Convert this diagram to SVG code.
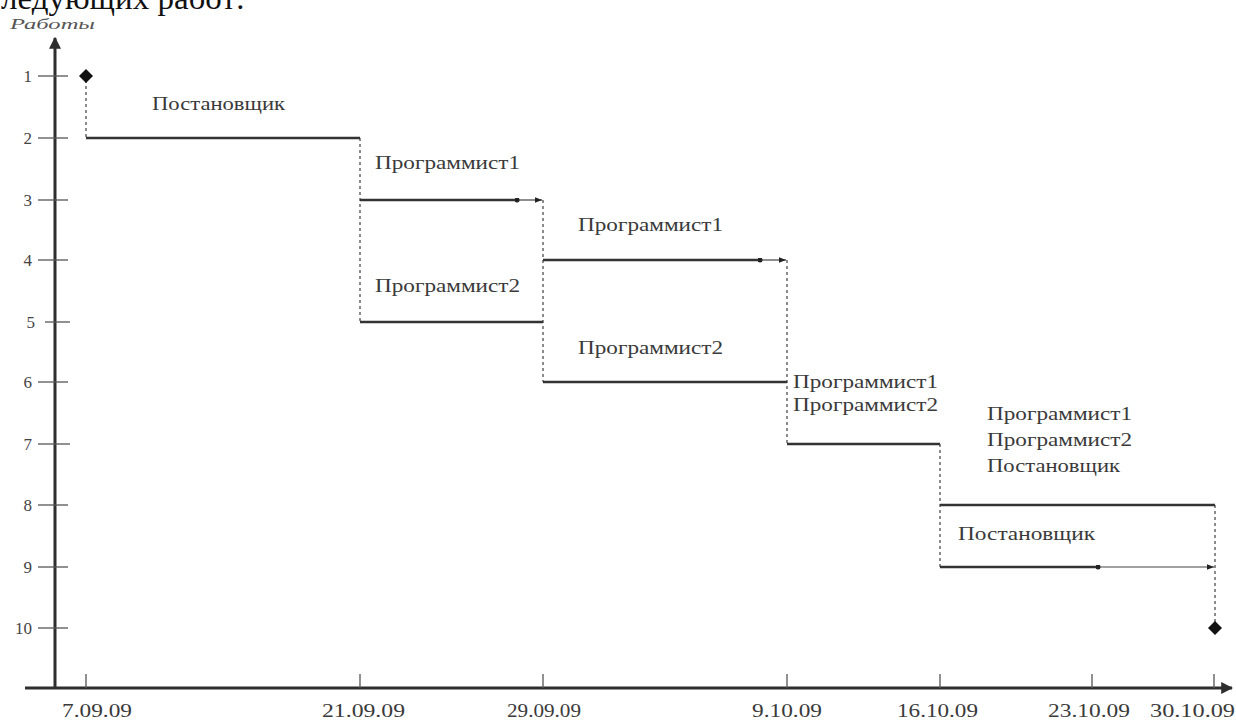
<svg xmlns="http://www.w3.org/2000/svg" width="1236" height="722" viewBox="0 0 1236 722">
  <defs>
    <style>
      .axis { stroke: #2e2e2e; stroke-width: 3; fill: none; }
      .tick { stroke: #555; stroke-width: 1.3; fill: none; }
      .work { stroke: #333; stroke-width: 2.6; fill: none; }
      .slack { stroke: #444; stroke-width: 1.2; fill: none; }
      .dash { stroke: #666; stroke-width: 1.5; stroke-dasharray: 3 3; fill: none; }
      .num { font-family: "Liberation Serif", "DejaVu Serif", serif; font-size: 17px; fill: #444; }
      .lbl { font-family: "Liberation Serif", "DejaVu Serif", serif; font-size: 19px; fill: #3a3a3a; }
      .date { font-family: "Liberation Serif", "DejaVu Serif", serif; font-size: 18px; fill: #3a3a3a; }
      .event { fill: #111; }
    </style>
    <marker id="axisArrow" viewBox="0 0 10 10" refX="9" refY="5" markerWidth="4" markerHeight="4" orient="auto">
      <path d="M0,0 L10,5 L0,10 z" fill="#2e2e2e"/>
    </marker>
    <marker id="slackEnd" viewBox="0 0 10 10" refX="10" refY="5" markerWidth="7" markerHeight="7" markerUnits="userSpaceOnUse" orient="auto">
      <path d="M0,1 L10,5 L0,9 z" fill="#222"/>
    </marker>
    <marker id="slackStart" viewBox="0 0 10 10" refX="5" refY="5" markerWidth="5" markerHeight="5" markerUnits="userSpaceOnUse">
      <circle cx="5" cy="5" r="5" fill="#222"/>
    </marker>
  </defs>

  <rect width="1236" height="722" fill="#ffffff"/>

  <!-- heading line cut by the top edge -->
  <text x="1" y="9" font-family="Liberation Serif, DejaVu Serif, serif" font-size="32" fill="#111" textLength="244" lengthAdjust="spacingAndGlyphs">ледующих работ:</text>

  <!-- axes -->
  <g id="axes">
    <text x="10" y="29" font-family="Liberation Serif, DejaVu Serif, serif" font-size="14" font-style="italic" fill="#555" textLength="85" lengthAdjust="spacingAndGlyphs">Работы</text>
    <line class="axis" x1="55" y1="689" x2="55" y2="38" marker-end="url(#axisArrow)"/>
    <line class="axis" x1="25" y1="688" x2="1232" y2="688" marker-end="url(#axisArrow)"/>

    <!-- work numbers -->
    <g class="tick">
      <line x1="38" y1="76" x2="68" y2="76"/>
      <line x1="38" y1="138" x2="68" y2="138"/>
      <line x1="38" y1="200" x2="68" y2="200"/>
      <line x1="38" y1="260" x2="68" y2="260"/>
      <line x1="45" y1="322" x2="70" y2="322"/>
      <line x1="38" y1="382" x2="68" y2="382"/>
      <line x1="38" y1="444" x2="70" y2="444"/>
      <line x1="38" y1="505" x2="68" y2="505"/>
      <line x1="38" y1="567" x2="68" y2="567"/>
      <line x1="38" y1="628" x2="68" y2="628"/>
    </g>
    <g class="num" text-anchor="end">
      <text x="32" y="82">1</text>
      <text x="32" y="144">2</text>
      <text x="32" y="206">3</text>
      <text x="32" y="266">4</text>
      <text x="35" y="328">5</text>
      <text x="32" y="388">6</text>
      <text x="32" y="450">7</text>
      <text x="32" y="511">8</text>
      <text x="32" y="573">9</text>
      <text x="32" y="634">10</text>
    </g>

    <!-- dates -->
    <g class="tick">
      <line x1="86" y1="674" x2="86" y2="688"/>
      <line x1="360" y1="674" x2="360" y2="688"/>
      <line x1="543" y1="674" x2="543" y2="688"/>
      <line x1="787" y1="674" x2="787" y2="688"/>
      <line x1="940" y1="674" x2="940" y2="688"/>
      <line x1="1092" y1="674" x2="1092" y2="688"/>
      <line x1="1214" y1="674" x2="1214" y2="688"/>
    </g>
    <g class="date">
      <text x="62" y="717" textLength="70" lengthAdjust="spacingAndGlyphs">7.09.09</text>
      <text x="322" y="717" textLength="83" lengthAdjust="spacingAndGlyphs">21.09.09</text>
      <text x="507" y="717" textLength="74" lengthAdjust="spacingAndGlyphs">29.09.09</text>
      <text x="752" y="717" textLength="70" lengthAdjust="spacingAndGlyphs">9.10.09</text>
      <text x="897" y="717" textLength="81" lengthAdjust="spacingAndGlyphs">16.10.09</text>
      <text x="1048" y="717" textLength="82" lengthAdjust="spacingAndGlyphs">23.10.09</text>
      <text x="1150" y="717" textLength="85" lengthAdjust="spacingAndGlyphs">30.10.09</text>
    </g>
  </g>

  <!-- dashed links between works -->
  <g id="connectors">
    <line class="dash" x1="86" y1="80" x2="86" y2="138"/>
    <line class="dash" x1="360" y1="138" x2="360" y2="322"/>
    <line class="dash" x1="543" y1="200" x2="543" y2="382"/>
    <line class="dash" x1="787" y1="260" x2="787" y2="444"/>
    <line class="dash" x1="940" y1="444" x2="940" y2="567"/>
    <line class="dash" x1="1215" y1="505" x2="1215" y2="624"/>
  </g>

  <!-- start and finish events -->
  <g id="event-start">
    <path class="event" d="M86,69 L93,76 L86,83 L79,76 z"/>
  </g>
  <g id="event-finish">
    <path class="event" d="M1215,621 L1222,628 L1215,635 L1208,628 z"/>
  </g>

  <!-- works -->
  <g id="work-2">
    <line class="work" x1="86" y1="138" x2="360" y2="138"/>
    <text class="lbl" x="152" y="110" textLength="133" lengthAdjust="spacingAndGlyphs">Постановщик</text>
  </g>
  <g id="work-3">
    <line class="work" x1="360" y1="200" x2="517" y2="200"/>
    <line class="slack" x1="517" y1="200" x2="542" y2="200" marker-start="url(#slackStart)" marker-end="url(#slackEnd)"/>
    <text class="lbl" x="375" y="169" textLength="145" lengthAdjust="spacingAndGlyphs">Программист1</text>
  </g>
  <g id="work-4">
    <line class="work" x1="543" y1="260" x2="760" y2="260"/>
    <line class="slack" x1="760" y1="260" x2="786" y2="260" marker-start="url(#slackStart)" marker-end="url(#slackEnd)"/>
    <text class="lbl" x="578" y="231" textLength="145" lengthAdjust="spacingAndGlyphs">Программист1</text>
  </g>
  <g id="work-5">
    <line class="work" x1="360" y1="322" x2="543" y2="322"/>
    <text class="lbl" x="375" y="292" textLength="145" lengthAdjust="spacingAndGlyphs">Программист2</text>
  </g>
  <g id="work-6">
    <line class="work" x1="543" y1="382" x2="787" y2="382"/>
    <text class="lbl" x="578" y="354" textLength="145" lengthAdjust="spacingAndGlyphs">Программист2</text>
  </g>
  <g id="work-7">
    <line class="work" x1="787" y1="444" x2="940" y2="444"/>
    <text class="lbl" x="793" y="388" textLength="145" lengthAdjust="spacingAndGlyphs">Программист1</text>
    <text class="lbl" x="793" y="411" textLength="145" lengthAdjust="spacingAndGlyphs">Программист2</text>
  </g>
  <g id="work-8">
    <line class="work" x1="940" y1="505" x2="1215" y2="505"/>
    <text class="lbl" x="987" y="420" textLength="145" lengthAdjust="spacingAndGlyphs">Программист1</text>
    <text class="lbl" x="987" y="446" textLength="145" lengthAdjust="spacingAndGlyphs">Программист2</text>
    <text class="lbl" x="987" y="472" textLength="133" lengthAdjust="spacingAndGlyphs">Постановщик</text>
  </g>
  <g id="work-9">
    <line class="work" x1="940" y1="567" x2="1098" y2="567"/>
    <line class="slack" x1="1098" y1="567" x2="1214" y2="567" marker-start="url(#slackStart)" marker-end="url(#slackEnd)"/>
    <text class="lbl" x="958" y="540" textLength="137" lengthAdjust="spacingAndGlyphs">Постановщик</text>
  </g>
</svg>
